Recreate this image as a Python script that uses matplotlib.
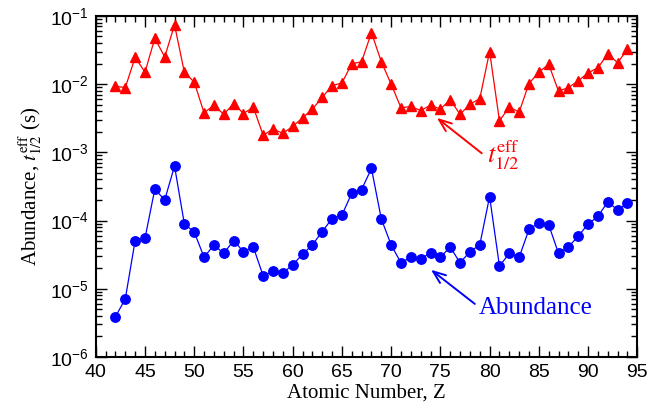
import numpy as np
import matplotlib
matplotlib.use("Agg")
import matplotlib.pyplot as plt
from matplotlib.ticker import LogLocator, MultipleLocator, NullFormatter

Z = list(range(42, 95))

t_half = [0.0093, 0.0089, 0.0247, 0.0150, 0.047, 0.025, 0.074, 0.0149, 0.0107,
          0.0038, 0.0049, 0.0036, 0.0052, 0.0037, 0.0046, 0.00178, 0.0022, 0.0019,
          0.0024, 0.0032, 0.0043, 0.0064, 0.0095, 0.0104, 0.0198, 0.0213, 0.057,
          0.0213, 0.0100, 0.0045, 0.0047, 0.0041, 0.0049, 0.0043, 0.0059, 0.0036,
          0.0051, 0.0061, 0.030, 0.0029, 0.0046, 0.0039, 0.0102, 0.0150, 0.0195,
          0.0079, 0.0089, 0.0112, 0.0146, 0.0174, 0.0276, 0.0206, 0.0324]

abundance = [3.9e-6, 7.1e-6, 5.1e-5, 5.5e-5, 2.9e-4, 2.0e-4, 6.3e-4, 8.9e-5, 6.8e-5,
             2.9e-5, 4.4e-5, 3.3e-5, 5.1e-5, 3.5e-5, 4.1e-5, 1.55e-5, 1.8e-5, 1.7e-5,
             2.25e-5, 3.2e-5, 4.4e-5, 6.9e-5, 1.07e-4, 1.2e-4, 2.52e-4, 2.85e-4, 5.8e-4,
             1.06e-4, 4.4e-5, 2.4e-5, 2.9e-5, 2.7e-5, 3.4e-5, 2.9e-5, 4.1e-5, 2.4e-5,
             3.5e-5, 4.4e-5, 2.25e-4, 2.15e-5, 3.3e-5, 2.9e-5, 7.4e-5, 9.3e-5, 8.7e-5,
             3.3e-5, 4.1e-5, 5.9e-5, 8.9e-5, 1.15e-4, 1.88e-4, 1.43e-4, 1.78e-4]

plt.rcParams['mathtext.fontset'] = 'stix'

fig = plt.figure(figsize=(6.47, 4.08), dpi=100)
ax = fig.add_axes([0.148, 0.125, 0.837, 0.836])

ax.plot(Z, t_half, color='red', marker='^', markersize=7.5, linewidth=0.9)
ax.plot(Z, abundance, color='blue', marker='o', markersize=6.8, linewidth=0.9)

ax.set_yscale('log')
ax.set_xlim(40, 95)
ax.set_ylim(1e-6, 1e-1)

ax.xaxis.set_major_locator(MultipleLocator(5))
ax.xaxis.set_minor_locator(MultipleLocator(1))
ax.yaxis.set_major_locator(LogLocator(base=10, numticks=10))
ax.yaxis.set_minor_locator(LogLocator(base=10, subs=np.arange(2, 10), numticks=20))
ax.yaxis.set_minor_formatter(NullFormatter())

ax.tick_params(which='both', direction='in', top=True, right=True, width=1.0)
ax.tick_params(which='major', length=8, labelsize=14, pad=5)
ax.tick_params(which='minor', length=4)
for lab in ax.get_xticklabels() + ax.get_yticklabels():
    lab.set_family('Liberation Sans')
for s in ax.spines.values():
    s.set_linewidth(1.5)

ax.set_xlabel('Atomic Number, Z', family='Liberation Serif', fontsize=15, labelpad=2)
ax.set_ylabel(r'Abundance, $t_{1/2}^{\rm eff}$ (s)', family='Liberation Serif', fontsize=15, labelpad=4)

arrow_style = '->,head_length=0.9,head_width=0.35'
# t1/2 annotation
ax.annotate('', xy=(74.65, 0.0032), xytext=(79.2, 9.7e-4),
            arrowprops=dict(arrowstyle=arrow_style, color='red', lw=1.4,
                            shrinkA=0, shrinkB=0))
ax.text(79.75, 9.0e-4, r'$t_{1/2}^{\rm eff}$', color='red', fontsize=19,
        ha='left', va='center')
# Abundance annotation
ax.annotate('', xy=(74.05, 1.9e-5), xytext=(78.5, 6.0e-6),
            arrowprops=dict(arrowstyle=arrow_style, color='blue', lw=1.4,
                            shrinkA=0, shrinkB=0))
ax.text(78.9, 5.2e-6, 'Abundance', color='blue', fontsize=18,
        family='Liberation Serif', ha='left', va='center')

fig.savefig('out.png', dpi=100)
